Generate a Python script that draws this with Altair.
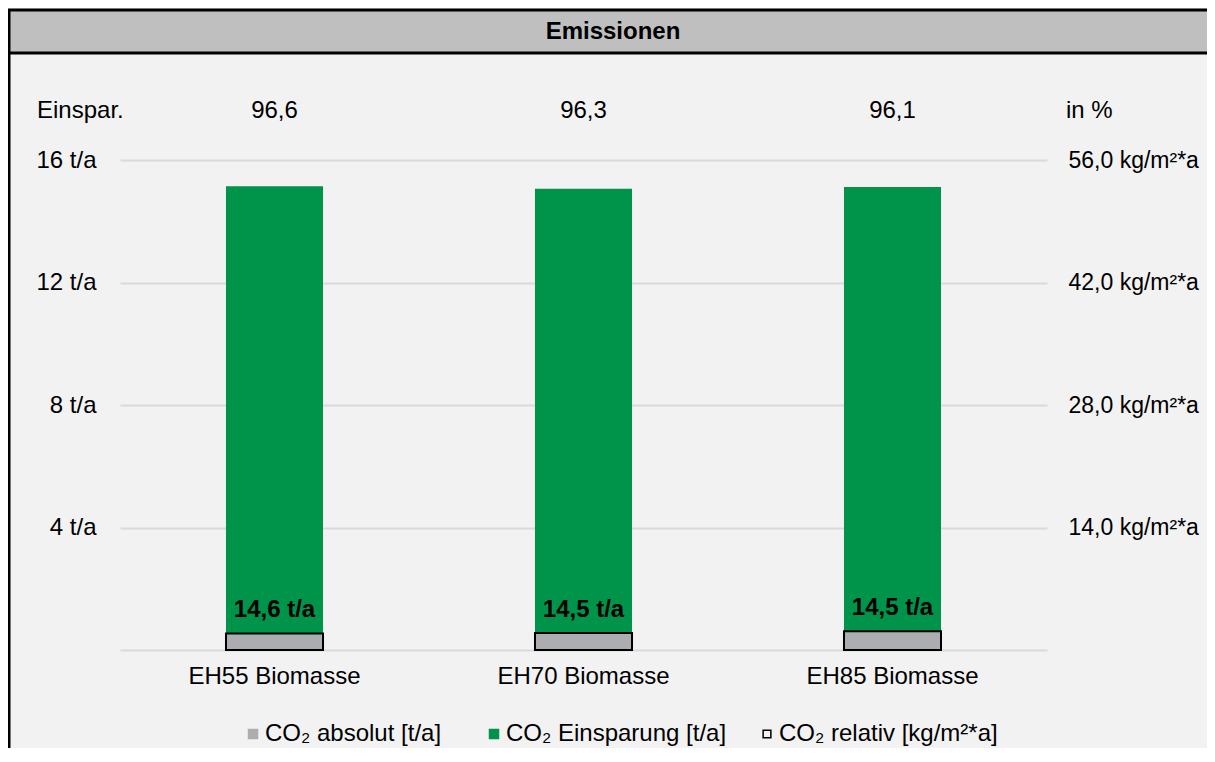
import altair as alt
import pandas as pd

# ---- data ----
categories = ["EH55 Biomasse", "EH70 Biomasse", "EH85 Biomasse"]
co2_absolut = [0.54, 0.56, 0.62]          # t/a (grey, left axis)
co2_einsparung = [14.6, 14.5, 14.5]       # t/a (green, stacked on grey)
co2_relativ = [1.9, 1.95, 2.15]           # kg/m²*a (outline, right axis)
einsparung_pct = [96.6, 96.3, 96.1]       # %

left_ticks = [0, 4, 8, 12, 16]
right_ticks = [14, 28, 42, 56]
fill_names = ["CO₂ absolut [t/a]", "CO₂ Einsparung [t/a]"]
fill_colors = ["#abadb0", "#00934a"]
stroke_names = ["CO₂ relativ [kg/m²*a]"]
stroke_colors = ["black"]

df = pd.DataFrame({
    "cat": categories,
    "absolut": co2_absolut,
    "einsparung": co2_einsparung,
    "relativ": co2_relativ,
    "pct": einsparung_pct,
})

W, H = 927, 490
PAD = {"left": 112, "top": 152, "right": 160, "bottom": 98}
FONT = "Liberation Sans"
FS = 24

x_enc = alt.X(
    "cat:N", sort=categories,
    scale=alt.Scale(paddingInner=0.686, paddingOuter=0.343),
    axis=alt.Axis(title=None, domain=False, ticks=False, labelPadding=14,
                  labelFontSize=FS, labelColor="black", labelAngle=0, labelFont=FONT),
)

y_scale = alt.Scale(domain=[0, 16], nice=False)
y_axis = alt.Axis(
    title=None, values=left_ticks,
    labelExpr="datum.value == 0 ? '' : datum.value + ' t/a'",
    domain=False, ticks=False, grid=True, gridColor="#d9d9d9", gridWidth=2,
    labelPadding=24, labelFontSize=FS, labelColor="black", labelFont=FONT,
)

fill_scale = alt.Scale(domain=fill_names, range=fill_colors)
fill_legend = alt.Legend(
    title=None, orient="none", legendX=121, legendY=562, direction="horizontal",
    symbolType="square", symbolSize=110, labelFontSize=FS, labelFont=FONT,
    labelColor="black", columnPadding=40, labelOffset=0, padding=0,
    symbolStrokeWidth=0, labelLimit=0,
)
stroke_scale = alt.Scale(domain=stroke_names, range=stroke_colors)
stroke_legend = alt.Legend(
    title=None, orient="none", legendX=635, legendY=562, direction="horizontal",
    symbolType="square", symbolSize=60, labelFontSize=FS, labelFont=FONT,
    labelColor="black", labelOffset=0, padding=0,
    symbolFillColor="transparent", symbolStrokeWidth=1.5, labelLimit=0,
)

base = alt.Chart(df)

grey = base.transform_calculate(series=f"'{fill_names[0]}'").mark_bar().encode(
    x=x_enc,
    y=alt.Y("absolut:Q", scale=y_scale, axis=y_axis),
    fill=alt.Fill("series:N", scale=fill_scale, legend=fill_legend),
)

green = base.transform_calculate(
    series=f"'{fill_names[1]}'", top="datum.absolut + datum.einsparung"
).mark_bar().encode(
    x=x_enc,
    y=alt.Y("top:Q", scale=y_scale, axis=y_axis),
    y2="absolut:Q",
    fill=alt.Fill("series:N", scale=fill_scale, legend=fill_legend),
)

labels = base.transform_calculate(
    lab="replace(format(datum.einsparung, '.1f'), '.', ',') + ' t/a'"
).mark_text(fontWeight="bold", fontSize=FS, font=FONT, color="black",
            baseline="alphabetic", dy=-16).encode(
    x=x_enc,
    y=alt.Y("absolut:Q", scale=y_scale, axis=y_axis),
    text="lab:N",
)

pct_row = base.transform_calculate(
    lab="replace(format(datum.pct, '.1f'), '.', ',')"
).mark_text(fontSize=FS, font=FONT, color="black", baseline="middle").encode(
    x=x_enc, y=alt.value(-49), text="lab:N",
)

inner = alt.layer(grey, green, labels, pct_row)

relativ = base.transform_calculate(series=f"'{stroke_names[0]}'").mark_bar(
    fill="transparent", strokeWidth=2
).encode(
    x=x_enc,
    y=alt.Y("relativ:Q", scale=alt.Scale(domain=[0, 56], nice=False),
            axis=alt.Axis(title=None, orient="right", values=right_ticks,
                          labelExpr="replace(format(datum.value, '.1f'), '.', ',') + ' kg/m²*a'",
                          domain=False, ticks=False, grid=False, labelPadding=21,
                          labelFontSize=23, labelColor="black", labelFont=FONT)),
    stroke=alt.Stroke("series:N", scale=stroke_scale, legend=stroke_legend),
)

one = alt.Data(values=[{}])

title_rect = alt.Chart(one).mark_rect(fill="#bfbfbf", stroke="black", strokeWidth=3).encode(
    x=alt.value(-111), x2=alt.value(W + PAD["right"] + 10),
    y=alt.value(-150), y2=alt.value(-107),
)
title_text = alt.Chart(one).mark_text(
    text="Emissionen", fontWeight="bold", fontSize=24, font=FONT, color="black",
    baseline="middle", align="center",
).encode(x=alt.value(493), y=alt.value(-128))

border = alt.Chart(one).mark_rule(color="black", strokeWidth=3).encode(
    x=alt.value(-111), y=alt.value(-107), y2=alt.value(H + PAD["bottom"] + 5),
)

einspar_lbl = alt.Chart(one).mark_text(
    text="Einspar.", fontSize=FS, font=FONT, color="black", align="left", baseline="middle"
).encode(x=alt.value(-83), y=alt.value(-49))
in_pct = alt.Chart(one).mark_text(
    text="in %", fontSize=FS, font=FONT, color="black", align="left", baseline="middle"
).encode(x=alt.value(946), y=alt.value(-49))

chart = alt.layer(
    title_rect, title_text, border, inner, relativ, einspar_lbl, in_pct
).resolve_scale(y="independent").properties(
    width=W, height=H, padding=PAD,
    autosize=alt.AutoSizeParams(type="none"),
    background="#f2f2f2",
).configure_view(stroke=None)

chart.save("out.html", embed_options={"renderer": "svg", "actions": False})
